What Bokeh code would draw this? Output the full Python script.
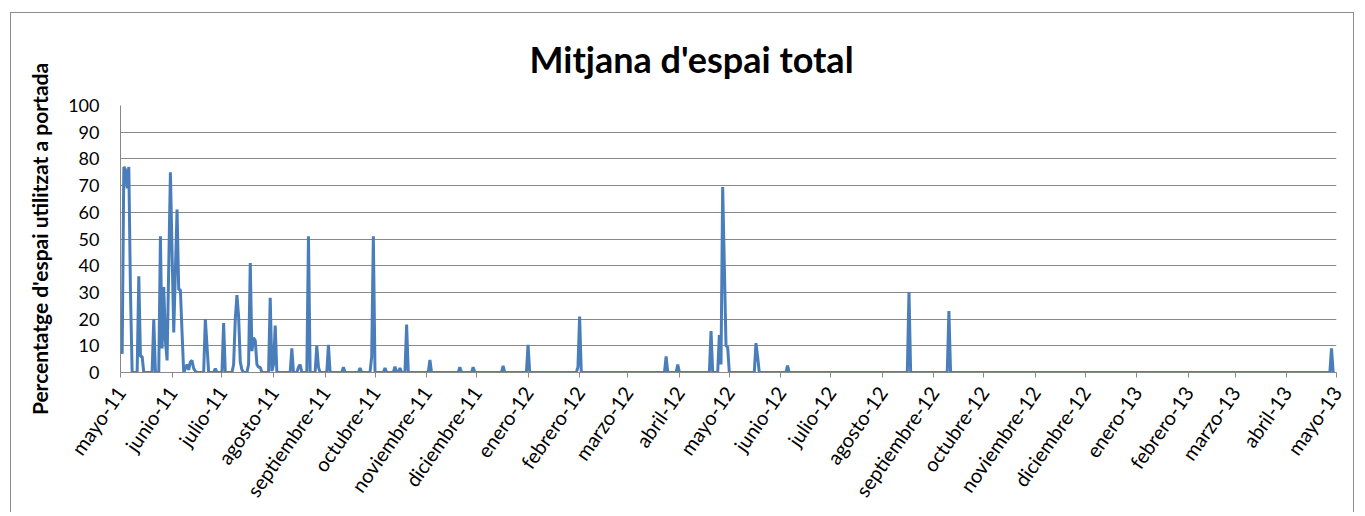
import math
import pandas as pd
from bokeh.plotting import figure
from bokeh.models import FixedTicker, ColumnDataSource
from bokeh.embed import file_html
from bokeh.resources import INLINE

titulo = "Mitjana d'espai total"
eje_y = "Percentatge d'espai utilitzat a portada"

fechas = [
    "2011-05-01", "2011-05-02", "2011-05-03", "2011-05-04", "2011-05-05", "2011-05-06",
    "2011-05-07", "2011-05-08", "2011-05-11", "2011-05-12", "2011-05-13", "2011-05-14",
    "2011-05-15", "2011-05-20", "2011-05-21", "2011-05-22", "2011-05-24", "2011-05-25",
    "2011-05-26", "2011-05-27", "2011-05-28", "2011-05-29", "2011-05-31", "2011-06-02",
    "2011-06-04", "2011-06-05", "2011-06-06", "2011-06-07", "2011-06-08", "2011-06-10",
    "2011-06-11", "2011-06-12", "2011-06-13", "2011-06-14", "2011-06-15", "2011-06-16",
    "2011-06-20", "2011-06-21", "2011-06-23", "2011-06-26", "2011-06-27", "2011-06-28",
    "2011-07-01", "2011-07-02", "2011-07-03", "2011-07-07", "2011-07-08", "2011-07-09",
    "2011-07-10", "2011-07-11", "2011-07-12", "2011-07-13", "2011-07-14", "2011-07-16",
    "2011-07-17", "2011-07-18", "2011-07-19", "2011-07-20", "2011-07-21", "2011-07-22",
    "2011-07-23", "2011-07-24", "2011-07-25", "2011-07-29", "2011-07-30", "2011-07-31",
    "2011-08-01", "2011-08-02", "2011-08-03", "2011-08-11", "2011-08-12", "2011-08-13",
    "2011-08-15", "2011-08-16", "2011-08-17", "2011-08-18", "2011-08-21", "2011-08-22",
    "2011-08-23", "2011-08-26", "2011-08-27", "2011-08-28", "2011-08-29", "2011-09-02",
    "2011-09-03", "2011-09-04", "2011-09-11", "2011-09-12", "2011-09-13", "2011-09-21",
    "2011-09-22", "2011-09-23", "2011-09-28", "2011-09-29", "2011-09-30", "2011-10-01",
    "2011-10-06", "2011-10-07", "2011-10-08", "2011-10-12", "2011-10-13", "2011-10-14",
    "2011-10-15", "2011-10-16", "2011-10-17", "2011-10-19", "2011-10-20", "2011-10-21",
    "2011-11-02", "2011-11-03", "2011-11-04", "2011-11-20", "2011-11-21", "2011-11-22",
    "2011-11-28", "2011-11-29", "2011-11-30", "2011-12-16", "2011-12-17", "2011-12-18",
    "2011-12-31", "2012-01-01", "2012-01-02", "2012-01-30", "2012-01-31", "2012-02-01",
    "2012-02-02", "2012-03-23", "2012-03-24", "2012-03-25", "2012-03-30", "2012-03-31",
    "2012-04-01", "2012-04-19", "2012-04-20", "2012-04-21", "2012-04-24", "2012-04-25",
    "2012-04-26", "2012-04-27", "2012-04-28", "2012-04-29", "2012-04-30", "2012-05-01",
    "2012-05-16", "2012-05-17", "2012-05-18", "2012-05-19", "2012-06-04", "2012-06-05",
    "2012-06-06", "2012-08-16", "2012-08-17", "2012-08-18", "2012-09-09", "2012-09-10",
    "2012-09-11", "2013-04-27", "2013-04-28", "2013-04-29", "2013-04-30",
]

valores = [
    14, 7, 77, 76, 69, 77,
    30, 0, 0, 36, 6, 6,
    0, 0, 20, 0, 0, 51,
    9, 32, 12, 4.5, 75, 15,
    61, 31, 31, 15, 0, 3,
    1, 4, 4.5, 1.5, 0.5, 0,
    0, 20, 0, 0, 1.5, 0,
    0, 18.5, 0, 0, 3, 20,
    29, 21, 4, 1, 0, 0,
    3, 41, 8, 13, 12, 3,
    2, 2, 0, 0, 28, 0.5,
    3, 17.6, 0, 0, 9, 0,
    0, 2, 3, 0, 0, 51,
    0, 0, 10, 2, 0, 0,
    10.4, 0, 0, 2, 0, 0,
    1.7, 0, 0, 6, 51, 0,
    0, 1.7, 0, 0, 2.2, 0,
    0, 1.7, 0, 0, 18, 0,
    0, 4.7, 0, 0, 2, 0,
    0, 2, 0, 0, 2.5, 0,
    0, 10.4, 0, 0, 2, 21,
    0, 0, 6, 0, 0, 3,
    0, 0, 15.5, 0, 0, 14,
    3, 69.5, 40, 10, 9.5, 0,
    0, 11, 6, 0, 0, 2.6,
    0, 0, 30, 0, 0, 23,
    0, 0, 9, 0, 0,
]

meses = [
    "mayo-11", "junio-11", "julio-11", "agosto-11", "septiembre-11", "octubre-11",
    "noviembre-11", "diciembre-11", "enero-12", "febrero-12", "marzo-12", "abril-12",
    "mayo-12", "junio-12", "julio-12", "agosto-12", "septiembre-12", "octubre-12",
    "noviembre-12", "diciembre-12", "enero-13", "febrero-13", "marzo-13", "abril-13",
    "mayo-13",
]

y_ticks = [0, 10, 20, 30, 40, 50, 60, 70, 80, 90, 100]

t0 = pd.Timestamp("2011-05-01")
dias = [(pd.Timestamp(f) - t0).days for f in fechas]
inicios = pd.date_range("2011-05-01", "2013-05-01", freq="MS")
x_ticks = [(d - t0).days for d in inicios]

src = ColumnDataSource(dict(x=dias, y=valores))

GRIS = "#888888"
FONT = "Lato"

p = figure(
    width=1344, height=500,
    x_range=(0, x_ticks[-1]), y_range=(0, 100),
    output_backend="svg", toolbar_location=None,
    min_border_left=109, min_border_right=19, min_border_top=92, min_border_bottom=141,
    title=titulo,
)
p.margin = (12, 0, 0, 10)
p.styles = {
    "border-top": "1px solid #8c8c8c",
    "border-left": "1px solid #8c8c8c",
    "border-right": "1px solid #8c8c8c",
}

p.title.text_font = FONT
p.title.text_font_size = "36px"
p.title.text_font_style = "bold"
p.title.text_color = "#000000"
p.title.align = "left"
p.title.offset = 409
p.title.vertical_align = "top"
p.title.standoff = 46

p.outline_line_color = None
p.xgrid.grid_line_color = None
p.ygrid.grid_line_color = GRIS
p.ygrid.grid_line_width = 1

p.line("x", "y", source=src, line_color="#4a7ebb", line_width=3)

p.yaxis.ticker = FixedTicker(ticks=y_ticks)
p.yaxis.axis_line_color = GRIS
p.yaxis.major_tick_line_color = None
p.yaxis.minor_tick_line_color = None
p.yaxis.major_label_standoff = 15
p.yaxis.major_label_text_font = FONT
p.yaxis.major_label_text_font_size = "18px"
p.yaxis.major_label_text_color = "#000000"
p.yaxis.axis_label = eje_y
p.yaxis.axis_label_text_font = FONT
p.yaxis.axis_label_text_font_size = "21px"
p.yaxis.axis_label_text_font_style = "bold"
p.yaxis.axis_label_text_color = "#000000"
p.yaxis.axis_label_standoff = 13

p.xaxis.ticker = FixedTicker(ticks=x_ticks)
p.xaxis.major_label_overrides = {t: m for t, m in zip(x_ticks, meses)}
p.xaxis.axis_line_color = GRIS
p.xaxis.major_tick_line_color = GRIS
p.xaxis.major_tick_out = 5
p.xaxis.major_tick_in = 0
p.xaxis.minor_tick_line_color = None
p.xaxis.major_label_orientation = math.radians(55)
p.xaxis.major_label_standoff = 11
p.xaxis.major_label_text_font = FONT
p.xaxis.major_label_text_font_size = "20px"
p.xaxis.major_label_text_color = "#000000"

open("out.html", "w").write(file_html(p, INLINE))
